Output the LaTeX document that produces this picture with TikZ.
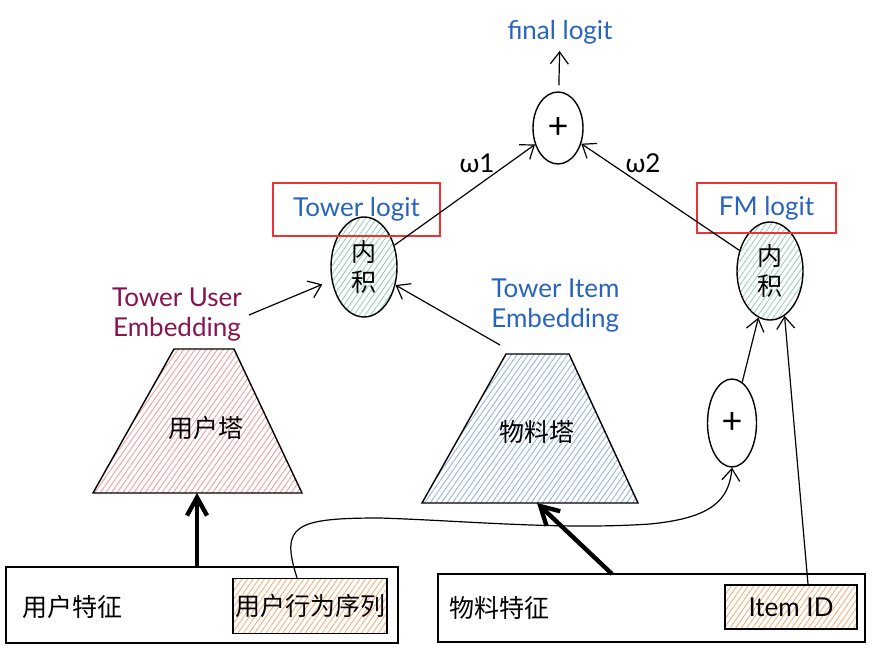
\documentclass[tikz,border=0pt]{standalone}
\usepackage{fontspec}
\setmainfont{Lato}
\newfontfamily\cjkfont{Noto Sans CJK SC}
\usetikzlibrary{positioning,arrows.meta,shapes.geometric,patterns.meta}
\definecolor{xblue}{RGB}{40,100,190}
\definecolor{xplum}{RGB}{135,20,80}
\definecolor{xred}{RGB}{236,50,50}
\definecolor{hpink}{RGB}{242,150,150}
\definecolor{hblue}{RGB}{145,172,222}
\definecolor{hgreen}{RGB}{145,205,178}
\definecolor{horange}{RGB}{245,170,110}
\tikzset{
  sketchline/.style={draw=black,line width=0.7pt},
  hatchfill/.style={pattern={Lines[angle=55,distance=2.3pt,line width=0.4pt]},pattern color=#1},
  dotnode/.style={sketchline,ellipse,hatchfill=hgreen,inner sep=0pt,align=center,
    minimum width=33pt,minimum height=50pt,font=\cjkfont\fontsize{12.5}{15}\selectfont},
  plusnode/.style={sketchline,ellipse,inner sep=0pt,font=\fontsize{18}{18}\selectfont},
  featbox/.style={sketchline,rectangle,inner sep=0pt},
  seqbox/.style={sketchline,rectangle,hatchfill=horange,inner sep=0pt},
  cjklabel/.style={font=\cjkfont\fontsize{12.5}{15}\selectfont},
  latlabel/.style={font=\fontsize{13}{15}\selectfont},
  logitbox/.style={draw=xred,line width=1.1pt,rectangle,inner sep=0pt,text=xblue,
    font=\fontsize{13}{15}\selectfont},
  arr/.style={line width=0.6pt,-{Straight Barb[length=6pt,width=9pt]}},
  fatarr/.style={line width=2.2pt,-{Straight Barb[length=9pt,width=10pt]}},
}

\begin{document}
\begin{tikzpicture}[x=0.5pt,y=-0.5pt]
\useasboundingbox (0,0) rectangle (877,652);

% the two towers
\draw[sketchline,hatchfill=hpink] (174,349) -- (234,349) -- (302,493) -- (93,493) -- cycle;
\draw[sketchline,hatchfill=hblue] (506,354) -- (569,354) -- (638,503) -- (422,503) -- cycle;
\node[cjklabel] (utower) at (206,428) {用户塔};
\node[cjklabel] (itower) at (537,432) {物料塔};
\coordinate (ut-b) at (197,493);
\coordinate (it-b) at (537,503);
\coordinate (it-t) at (500,345);

% feature boxes
\node[featbox,minimum width=196pt,minimum height=38pt] (ufeat) at (202,605) {};
\node[cjklabel,anchor=west,inner sep=0pt] (ufeat-t) at (22,607) {用户特征};
\node[seqbox,minimum width=77pt,minimum height=27.5pt,cjklabel] (useq) at (310,606) {用户行为序列};
\node[featbox,minimum width=213.5pt,minimum height=34pt] (ifeat) at (651.5,608) {};
\node[cjklabel,anchor=west,inner sep=0pt] (ifeat-t) at (449,608) {物料特征};
\node[seqbox,minimum width=66pt,minimum height=22pt,latlabel] (iid) at (791,607) {Item ID};
\coordinate (if-t) at (612,574);

% inner products and sums
\node[dotnode] (ldot) at (364,267) {内\\积};
\node[dotnode,minimum height=49pt] (rdot) at (770,271) {内\\积};
\node[plusnode,minimum width=25pt,minimum height=36pt] (plus) at (558,128) {+};
\node[plusnode,minimum width=24.5pt,minimum height=44pt] (splus) at (732,423) {+};

% labels
\node[latlabel,text=xblue] (flogit) at (560,32) {final logit};
\node[logitbox,minimum width=83.5pt,minimum height=26.5pt] (tlogit) at (356.5,209.5) {Tower logit};
\node[logitbox,minimum width=69.5pt,minimum height=25pt] (fmlogit) at (766.5,208) {FM logit};
\node[latlabel] (w1) at (477,163) {ω1};
\node[latlabel] (w2) at (643,163) {ω2};
\node[latlabel,text=xplum,align=center] (uemb) at (177,315) {Tower User\\Embedding};
\node[latlabel,text=xblue,align=left,anchor=west,inner sep=0pt] (iemb) at (491,306) {Tower Item\\Embedding};

% connectors
\draw[fatarr] (ufeat.north -| ut-b) -- (ut-b);
\draw[fatarr] (if-t) -- (it-b);
\draw[arr,shorten >=5pt] (uemb.east) -- (ldot);
\draw[arr] (it-t) -- (ldot);
\draw[arr] (ldot) -- (plus);
\draw[arr] (rdot) -- (plus);
\draw[arr,shorten <=3pt] (plus) -- (flogit);
\draw[arr] (splus) -- (rdot);
\draw[arr] ([xshift=8.5pt]iid.north) -- (rdot.-72);
\draw[arr] ([xshift=-6.5pt]useq.north) .. controls (280,525) and (295,518) .. (380,518)
  .. controls (470,521) and (560,530) .. (650,524)
  .. controls (712,518) and (729,500) .. (splus.south);
\end{tikzpicture}
\end{document}
